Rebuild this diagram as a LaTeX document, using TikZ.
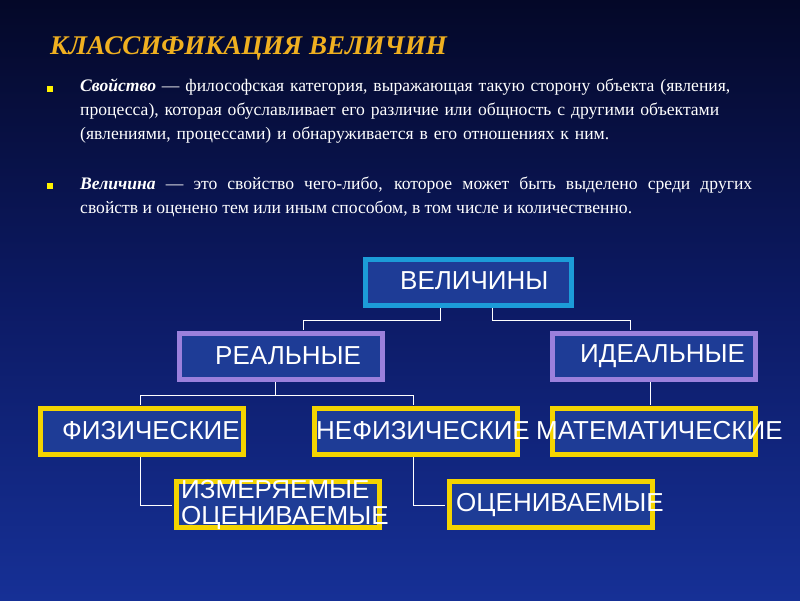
\documentclass[tikz,border=0pt]{standalone}
\usepackage{fontspec}
\setmainfont{Liberation Serif}
\newfontfamily\boxfont{Liberation Sans}
\begin{document}
\begin{tikzpicture}[x=1pt,y=-1pt,
  bx/.style={draw,line width=4.5pt,fill=boxfill,minimum width=200pt,minimum height=46pt,anchor=north west,inner sep=0pt},
  lab/.style={text=white,font=\boxfont\fontsize{26}{26}\selectfont,anchor=west,inner sep=0pt},
  ln/.style={draw=white,line width=0.8pt}]
\definecolor{boxfill}{HTML}{1E3C96}
\definecolor{cyanb}{HTML}{1C9CD8}
\definecolor{violb}{HTML}{9B80DC}
\definecolor{yelb}{HTML}{F4D400}
\definecolor{ttl}{HTML}{F0B020}
\shade[top color={rgb,255:red,4;green,8;blue,40},bottom color={rgb,255:red,22;green,48;blue,150},middle color={rgb,255:red,12;green,26;blue,100}] (0,0) rectangle (800,600);
\useasboundingbox (0,0) rectangle (800,600);
\node[anchor=west,text=ttl,inner sep=0pt,font=\bfseries\itshape\fontsize{27}{30}\selectfont] (t) at (50,48) {КЛАССИФИКАЦИЯ ВЕЛИЧИН};
\fill[yellow] (47,86) rectangle (53,92);
\fill[yellow] (47,183) rectangle (53,189);
\node[anchor=north west,text=white,inner sep=0pt,text width=680pt,font=\fontsize{17.6}{24}\selectfont,align=left] (p1) at (80,79) {\textbf{\textit{Свойство}} — философская категория, выражающая такую сторону объекта (явления,\\ процесса), которая обуславливает его различие или общность с другими объектами\\ (явлениями, процессами) и обнаруживается в его отношениях к ним.};
\node[anchor=north west,text=white,inner sep=0pt,text width=672pt,font=\fontsize{17.6}{24}\selectfont,align=justify] (p2) at (80,177) {\textbf{\textit{Величина}} — это свойство чего-либо, которое может быть выделено среди других\linebreak свойств и оценено тем или иным способом, в том числе и количественно.};
% connectors
\coordinate (c1) at (303,320); \coordinate (c2) at (630,320);
\draw[ln] (440,307) -- (440,320) -- (c1) -- (303,330);
\draw[ln] (492,307) -- (492,320) -- (c2) -- (630,330);
\draw[ln] (275,382) -- (275,395) -- (140,395) -- (140,405);
\draw[ln] (275,395) -- (413,395) -- (413,405);
\draw[ln] (650,382) -- (650,405);
\draw[ln] (140,457) -- (140,505) -- (172,505);
\draw[ln] (413,457) -- (413,505) -- (445,505);
% boxes
\node[bx,draw=cyanb,minimum width=206pt] (v) at (363,257) {};
\node[lab] at (400,281) {ВЕЛИЧИНЫ};
\node[bx,draw=violb,minimum width=203pt] (r) at (177,331) {};
\node[lab] at (215,356) {РЕАЛЬНЫЕ};
\node[bx,draw=violb,minimum width=203pt] (i) at (550,331) {};
\node[lab] at (580,356) {ИДЕАЛЬНЫЕ};
\node[bx,draw=yelb,minimum width=203pt] (f) at (38,406) {};
\node[lab] at (62,431) {ФИЗИЧЕСКИЕ};
\node[bx,draw=yelb,minimum width=203pt] (n) at (312,406) {};
\node[lab] at (316,431) {НЕФИЗИЧЕСКИЕ};
\node[bx,draw=yelb,minimum width=203pt] (m) at (550,406) {};
\node[lab] at (536,431) {МАТЕМАТИЧЕСКИЕ};
\node[bx,draw=yelb,minimum width=203pt] (iz) at (174,479) {};
\node[lab,align=left] at (181,505) {ИЗМЕРЯЕМЫЕ\\ОЦЕНИВАЕМЫЕ};
\node[bx,draw=yelb,minimum width=203pt] (o) at (447,479) {};
\node[lab] at (456,505) {ОЦЕНИВАЕМЫЕ};
\end{tikzpicture}
\end{document}
